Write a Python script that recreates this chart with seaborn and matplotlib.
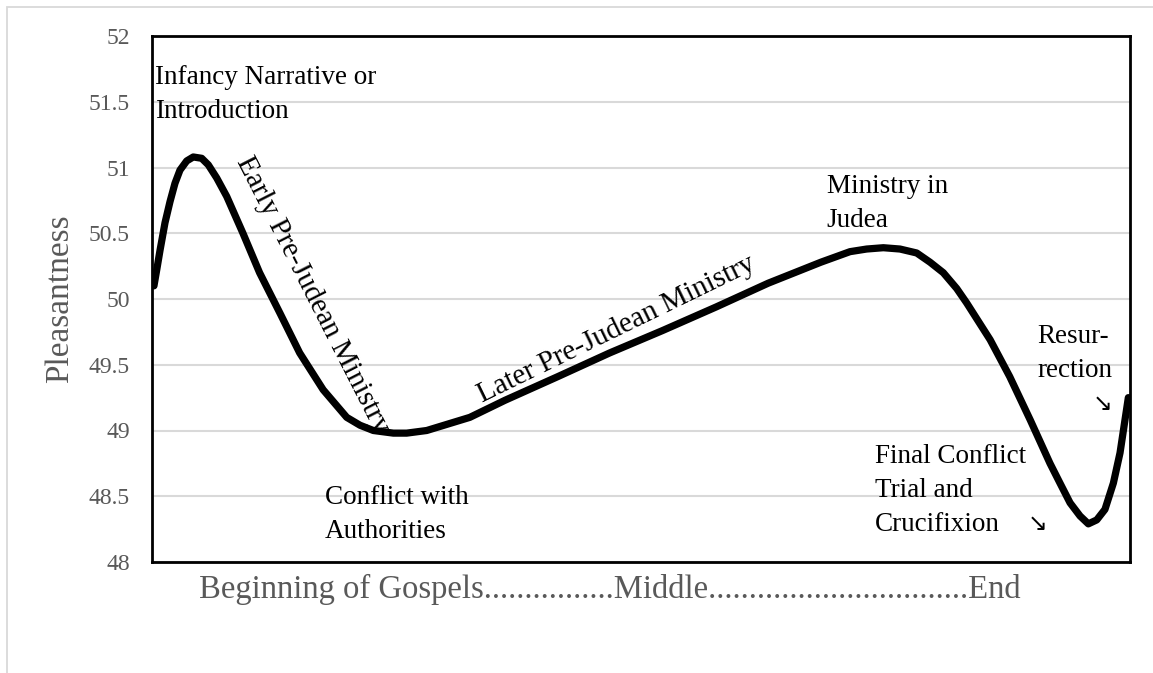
import matplotlib
matplotlib.use("Agg")
import matplotlib.pyplot as plt
import matplotlib.patches as patches
import seaborn as sns

# position along the gospels (0 = beginning, 100 = end) and pleasantness
story_pos = [0.2, 0.48, 0.82, 1.33, 1.84, 2.35, 2.86, 3.55, 4.22, 5.08,
             5.76, 6.62, 7.64, 9.3, 11.0, 13.1, 15.1, 17.5, 19.91, 21.27,
             22.63, 23.65, 24.68, 26.04, 28.09, 32.5, 36.1, 41.5, 46.8, 52.2,
             57.7, 63.0, 68.4, 71.37, 73.07, 74.78, 76.48, 78.19, 79.55, 80.91,
             82.28, 83.3, 85.7, 87.7, 89.8, 91.82, 92.84, 93.87, 94.89, 95.74,
             96.6, 97.44, 98.3, 98.98, 99.83]
pleasantness = [50.10, 50.22, 50.37, 50.58, 50.74, 50.88, 50.98, 51.05, 51.08, 51.07,
                51.02, 50.92, 50.78, 50.50, 50.20, 49.89, 49.59, 49.31, 49.10, 49.04,
                49.00, 48.99, 48.98, 48.98, 49.00, 49.10, 49.23, 49.41, 49.59, 49.76,
                49.94, 50.12, 50.28, 50.36, 50.38, 50.39, 50.38, 50.35, 50.28, 50.20,
                50.08, 49.97, 49.69, 49.41, 49.08, 48.75, 48.60, 48.45, 48.35, 48.29,
                48.32, 48.40, 48.60, 48.83, 49.25]

y_ticks = [48, 48.5, 49, 49.5, 50, 50.5, 51, 51.5, 52]
y_tick_labels = ["48", "48.5", "49", "49.5", "50", "50.5", "51", "51.5", "52"]
x_label = "Beginning of Gospels" + "." * 16 + "Middle" + "." * 32 + "End"
y_label = "Pleasantness"

# (text lines, x, baseline y of first line)
labels = [
    (["Infancy Narrative or", "Introduction"], 0.3, 51.635),
    (["Ministry in", "Judea"], 69.0, 50.806),
    (["Conflict with", "Authorities"], 17.7, 48.441),
    (["Final Conflict", "Trial and", "Crucifixion"], 73.9, 48.753),
    (["Resur-", "rection"], 90.5, 49.665),
]
line_step = 0.257  # baseline to baseline in data units
arrows = [(89.5, 48.236), (96.2, 49.148)]
slanted = [
    ("Early Pre-Judean Ministry", 16.4, 50.03, -63),
    ("Later Pre-Judean Ministry", 47.5, 49.77, 26),
]

sns.set_theme(style="white")
plt.rcParams["font.family"] = ["Liberation Serif", "DejaVu Sans"]

fig = plt.figure(figsize=(11.53, 6.73), dpi=100)
ax = fig.add_axes([152 / 1153, 1 - 562 / 673, 978 / 1153, 526 / 673])

sns.lineplot(x=story_pos, y=pleasantness, ax=ax, color="black", linewidth=5.2,
             zorder=3, solid_joinstyle="round")

ax.set_xlim(0, 100)
ax.set_ylim(48, 52)
ax.set_xticks([])
ax.set_yticks(y_ticks)
ax.set_yticklabels(y_tick_labels, fontsize=17, color="#595959")
ax.tick_params(axis="y", length=0, pad=16)
ax.yaxis.grid(True, color="#d9d9d9", linewidth=1.5, zorder=0)
ax.set_axisbelow(True)
for sp in ax.spines.values():
    sp.set_color("black")
    sp.set_linewidth(2)
    sp.set_visible(True)

ax.set_xlabel(x_label, fontsize=23.5, color="#595959", ha="left", va="baseline")
ax.xaxis.set_label_coords(47 / 978, -36 / 526)
ax.set_ylabel(y_label, fontsize=24, color="#595959", va="center", ha="center")
ax.yaxis.set_label_coords(-92 / 978, 0.5)

txt = dict(color="black", zorder=2)
for lines, x, y in labels:
    for i, line in enumerate(lines):
        ax.text(x, y - i * line_step, line, ha="left", va="baseline", fontsize=19.5, **txt)
for x, y in arrows:
    ax.text(x, y, "\u2198", ha="left", va="baseline", fontsize=17,
            family="DejaVu Sans", **txt)
for s, x, y, rot in slanted:
    ax.text(x, y, s, ha="center", va="center", rotation=rot,
            rotation_mode="anchor", fontsize=21, **txt)

# light border of the chart area
fig.patches.append(patches.Rectangle((7 / 1153, -0.1), 2, 1.1 - 7 / 673,
                                     transform=fig.transFigure, fill=False,
                                     edgecolor="#d9d9d9", linewidth=1.3))

fig.savefig("out.png", dpi=100)
